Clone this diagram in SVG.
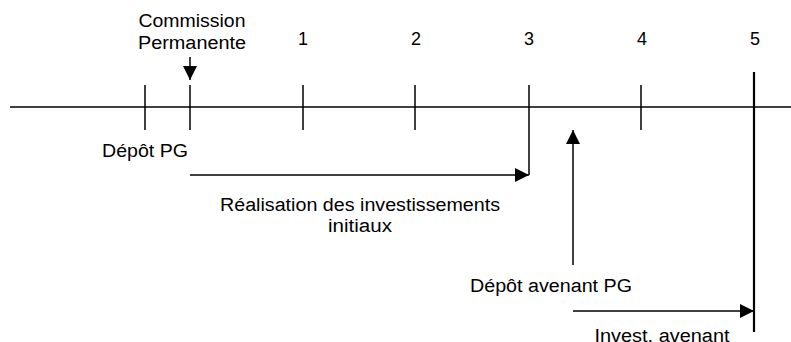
<svg xmlns="http://www.w3.org/2000/svg" width="791" height="342" viewBox="0 0 791 342">
<style>
text{font-family:"Liberation Sans",Arial,sans-serif;font-size:18px;fill:#000;text-anchor:middle}
.l{stroke:#000;stroke-width:1.5;fill:none}
.t{stroke:#000;stroke-width:2.2;fill:none}
</style>
<defs>
<marker id="ah" markerWidth="14" markerHeight="14" refX="14" refY="7" orient="auto" markerUnits="userSpaceOnUse">
<path d="M0,0 L14,7 L0,14 Z" fill="#000"/>
</marker>
</defs>
<g id="timeline">
<line class="l" x1="10" y1="107" x2="791" y2="107"/>
<line class="l" x1="145" y1="85" x2="145" y2="130"/>
<line class="l" x1="190" y1="85" x2="190" y2="130"/>
<line class="l" x1="303" y1="85" x2="303" y2="130"/>
<line class="l" x1="415" y1="85" x2="415" y2="130"/>
<line class="l" x1="529" y1="85" x2="529" y2="130"/>
<line class="l" x1="641" y1="85" x2="641" y2="130"/>
<line class="t" x1="754" y1="72" x2="754" y2="332"/>
</g>
<g id="labels">
<text x="192" y="27" textLength="107" lengthAdjust="spacingAndGlyphs">Commission</text>
<text x="192" y="49" textLength="108" lengthAdjust="spacingAndGlyphs">Permanente</text>
<text x="303" y="45">1</text>
<text x="416" y="45">2</text>
<text x="529" y="45">3</text>
<text x="642" y="45">4</text>
<text x="755" y="45">5</text>
<text x="145" y="157" textLength="86" lengthAdjust="spacingAndGlyphs">Dépôt PG</text>
<text x="360" y="211" textLength="280" lengthAdjust="spacingAndGlyphs">Réalisation des investissements</text>
<text x="360" y="232" textLength="64" lengthAdjust="spacingAndGlyphs">initiaux</text>
<text x="551" y="292" textLength="162" lengthAdjust="spacingAndGlyphs">Dépôt avenant PG</text>
<text x="662" y="342" textLength="135" lengthAdjust="spacingAndGlyphs">Invest. avenant</text>
</g>
<g id="connectors">
<line class="l" x1="190" y1="57" x2="190" y2="80" marker-end="url(#ah)"/>
<polyline class="l" points="190,175 529,175" marker-end="url(#ah)"/>
<line class="l" x1="529" y1="130" x2="529" y2="175"/>
<line class="l" x1="573" y1="265" x2="573" y2="130" marker-end="url(#ah)"/>
<line class="l" x1="573" y1="311" x2="754" y2="311" marker-end="url(#ah)"/>
</g>
</svg>
